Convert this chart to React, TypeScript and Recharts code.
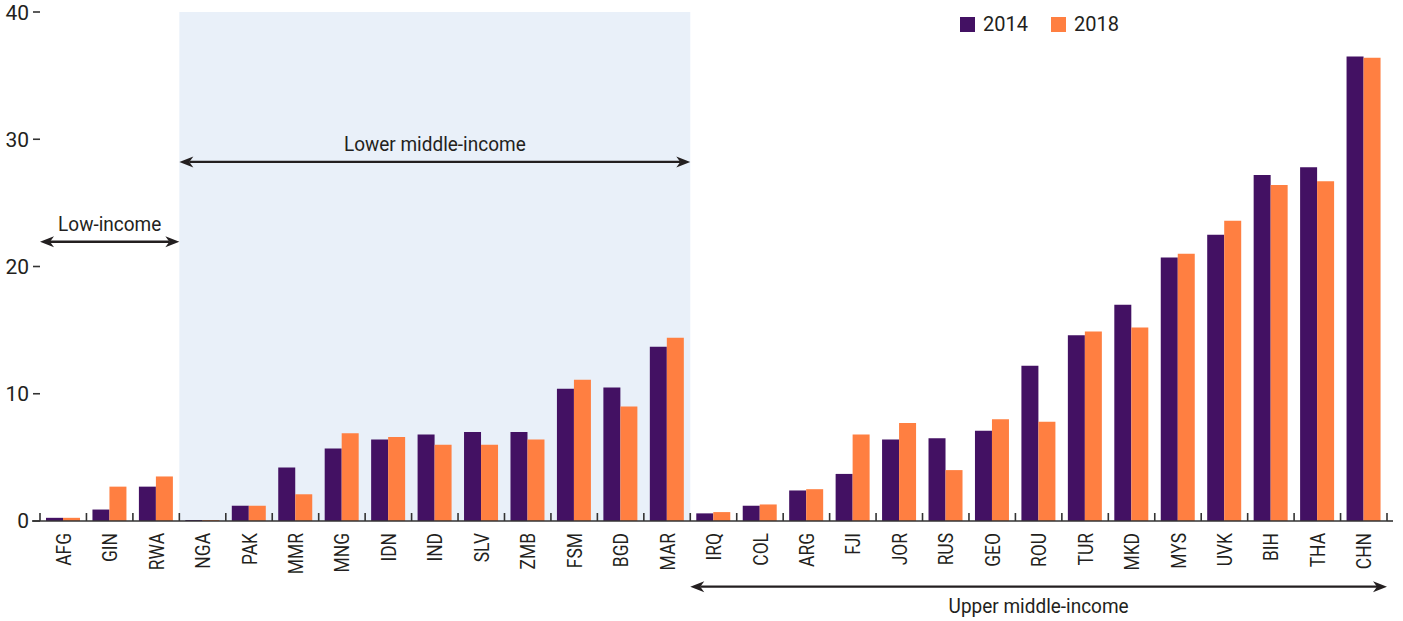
import {
  BarChart,
  Bar,
  XAxis,
  YAxis,
  Legend,
  ReferenceArea,
} from 'recharts';

// Country codes, ordered as in the chart
const categories = [
  'AFG', 'GIN', 'RWA', 'NGA', 'PAK', 'MMR', 'MNG', 'IDN', 'IND', 'SLV',
  'ZMB', 'FSM', 'BGD', 'MAR', 'IRQ', 'COL', 'ARG', 'FJI', 'JOR', 'RUS',
  'GEO', 'ROU', 'TUR', 'MKD', 'MYS', 'UVK', 'BIH', 'THA', 'CHN',
];

const values2014 = [
  0.25, 0.9, 2.7, 0.08, 1.2, 4.2, 5.7, 6.4, 6.8, 7.0,
  7.0, 10.4, 10.5, 13.7, 0.6, 1.2, 2.4, 3.7, 6.4, 6.5,
  7.1, 12.2, 14.6, 17.0, 20.7, 22.5, 27.2, 27.8, 36.5,
];

const values2018 = [
  0.25, 2.7, 3.5, 0.08, 1.2, 2.1, 6.9, 6.6, 6.0, 6.0,
  6.4, 11.1, 9.0, 14.4, 0.7, 1.3, 2.5, 6.8, 7.7, 4.0,
  8.0, 7.8, 14.9, 15.2, 21.0, 23.6, 26.4, 26.7, 36.4,
];

const yTicks = [0, 10, 20, 30, 40];

// Income groups (first and last country of each)
const lowIncome = { label: 'Low-income', from: 'AFG', to: 'RWA' };
const lowerMiddle = { label: 'Lower middle-income', from: 'NGA', to: 'MAR' };
const upperMiddle = { label: 'Upper middle-income', from: 'IRQ', to: 'CHN' };

const data = categories.map((code, i) => ({
  code,
  y2014: values2014[i],
  y2018: values2018[i],
}));

const INK = '#231F20';
const AXIS = '#333333';
const PURPLE = '#431163';
const ORANGE = '#FF7F41';
const SHADE = '#E9F0F9';
const FONT = "Roboto, 'Liberation Sans', Arial, sans-serif";

// arrow levels, in axis units
const LOW_ARROW = 21.94;
const LOWER_MID_ARROW = 28.22;
const UPPER_ARROW = -5.16;

// Double-headed arrow with a caption, drawn across the area's width
const RangeArrow = ({ viewBox, text, below }: any) => {
  if (!viewBox) return null;
  const { x, y, width, height } = viewBox;
  const ly = below ? y : y + height;
  const x1 = x;
  const x2 = x + width;
  const head = 14;
  const half = 5.5;
  const notch = 10;
  return (
    <g>
      <line x1={x1 + notch} y1={ly} x2={x2 - notch} y2={ly} stroke={INK} strokeWidth={2.4} />
      <path
        d={`M${x1},${ly} L${x1 + head},${ly - half} L${x1 + notch},${ly} L${x1 + head},${ly + half} Z`}
        fill={INK}
      />
      <path
        d={`M${x2},${ly} L${x2 - head},${ly - half} L${x2 - notch},${ly} L${x2 - head},${ly + half} Z`}
        fill={INK}
      />
      <text
        x={x + width / 2}
        y={below ? ly + 26 : ly - 11}
        textAnchor="middle"
        fontFamily={FONT}
        fontSize={20}
        fill={INK}
        transform={`translate(${x + width / 2},0) scale(0.95,1) translate(${-(x + width / 2)},0)`}
      >
        {text}
      </text>
    </g>
  );
};

// Rotated country label plus a boundary tick between categories
const CategoryTick = ({ x, y, payload, index }: any) => {
  const half = payload?.offset ?? 23.2;
  const last = index === categories.length - 1;
  return (
    <g>
      <line x1={x - half} x2={x - half} y1={y} y2={y - 8} stroke={AXIS} strokeWidth={1.6} />
      {last && <line x1={x + half} x2={x + half} y1={y} y2={y - 8} stroke={AXIS} strokeWidth={1.6} />}
      {index === 0 && <line x1={x - half - 8} x2={x - half} y1={y} y2={y} stroke={AXIS} strokeWidth={1.6} />}
      {last && <line x1={x + half} x2={x + half + 6} y1={y} y2={y} stroke={AXIS} strokeWidth={1.6} />}
      <text
        transform={`translate(${x},${y + 12}) rotate(-90) scale(0.83,1)`}
        textAnchor="end"
        dy="0.36em"
        fontFamily={FONT}
        fontSize={21}
        fill={INK}
      >
        {payload.value}
      </text>
    </g>
  );
};

const LegendContent = ({ payload }: any) => (
  <div style={{ display: 'flex', alignItems: 'center', fontFamily: FONT, fontSize: 20, color: INK }}>
    {(payload || []).map((item: any, i: number) => (
      <div key={item.value} style={{ display: 'flex', alignItems: 'center', marginLeft: i === 0 ? 0 : 23 }}>
        <span style={{ width: 15, height: 15, background: item.color, display: 'inline-block' }} />
        <span style={{ marginLeft: 8, lineHeight: '20px' }}>{item.value}</span>
      </div>
    ))}
  </div>
);

export default function App() {
  return (
    <div style={{ position: 'absolute', left: 0, top: 0 }}>
      <BarChart
        width={1403}
        height={621}
        data={data}
        margin={{ top: 12, right: 0, left: 0, bottom: 0 }}
        barGap={0}
      >
        <ReferenceArea
          x1={lowerMiddle.from}
          x2={lowerMiddle.to}
          y1={0}
          y2={40}
          yAxisId="left"
          fill={SHADE}
          fillOpacity={1}
          stroke="none"
        />
        <XAxis
          dataKey="code"
          interval={0}
          height={100}
          tickSize={0}
          tickMargin={0}
          tickLine={false}
          axisLine={{ stroke: AXIS, strokeWidth: 1.6 }}
          tick={<CategoryTick />}
        />
        <YAxis
          yAxisId="left"
          domain={[0, 40]}
          ticks={yTicks}
          width={40}
          axisLine={false}
          tickSize={7}
          tickMargin={4}
          tickLine={{ stroke: AXIS, strokeWidth: 1.6 }}
          tick={{ fill: INK, fontSize: 21, fontFamily: FONT }}
        />
        <YAxis
          yAxisId="right"
          orientation="right"
          domain={[0, 40]}
          ticks={yTicks}
          width={16}
          axisLine={false}
          tickSize={8}
          tickLine={{ stroke: AXIS, strokeWidth: 1.6 }}
          tickFormatter={() => ''}
        />
        <Legend
          layout="horizontal"
          verticalAlign="middle"
          wrapperStyle={{ top: 14, left: 960, width: 'auto' }}
          content={<LegendContent />}
        />
        <Bar dataKey="y2014" name="2014" yAxisId="left" fill={PURPLE} barSize={17} isAnimationActive={false} />
        <Bar dataKey="y2018" name="2018" yAxisId="left" fill={ORANGE} barSize={17} isAnimationActive={false} />
        <ReferenceArea
          x1={lowIncome.from}
          x2={lowIncome.to}
          y1={LOW_ARROW}
          y2={LOW_ARROW + 1}
          yAxisId="left"
          fillOpacity={0}
          stroke="none"
          ifOverflow="visible"
          label={<RangeArrow text={lowIncome.label} />}
        />
        <ReferenceArea
          x1={lowerMiddle.from}
          x2={lowerMiddle.to}
          y1={LOWER_MID_ARROW}
          y2={LOWER_MID_ARROW + 1}
          yAxisId="left"
          fillOpacity={0}
          stroke="none"
          ifOverflow="visible"
          label={<RangeArrow text={lowerMiddle.label} />}
        />
        <ReferenceArea
          x1={upperMiddle.from}
          x2={upperMiddle.to}
          y1={UPPER_ARROW - 1.5}
          y2={UPPER_ARROW}
          yAxisId="left"
          fillOpacity={0}
          stroke="none"
          ifOverflow="visible"
          label={<RangeArrow text={upperMiddle.label} below />}
        />
      </BarChart>
    </div>
  );
}
